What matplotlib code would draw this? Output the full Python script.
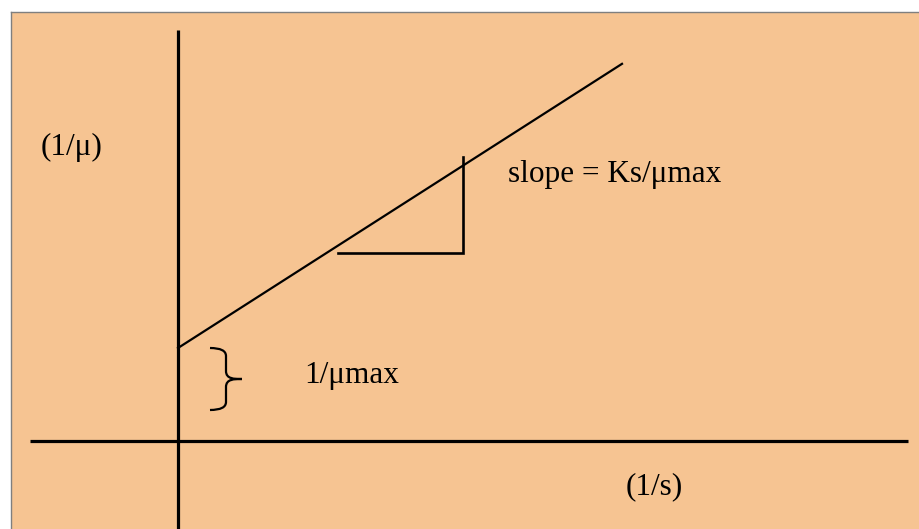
import matplotlib.pyplot as plt
from matplotlib.path import Path
import matplotlib.patches as mpatches

plt.rcParams['font.family'] = ['Liberation Serif', 'DejaVu Serif']

# diagram values (1 unit = 100 px, origin at the axes crossing)
intercept = 0.93          # 1/umax
slope = 0.64              # Ks/umax
line_x = [0.0, 4.44]
tri_x = [1.60, 2.85]      # horizontal leg of the slope triangle
tri_y = [1.88, 2.84]      # vertical leg of the slope triangle
brace_x = 0.32
brace_y = [0.31, 0.93]
brace_w = 0.32
xaxis_x = [-1.48, 7.30]
yaxis_y = [-0.95, 4.11]

labels = ['(1/\u03bc)', 'slope = Ks/\u03bcmax', '1/\u03bcmax', '(1/s)']
label_x = [-1.06, 3.30, 1.26, 4.76]
label_y = [2.94, 2.66, 0.66, -0.46]
label_ha = ['center', 'left', 'left', 'center']

bg = '#F6C492'

fig = plt.figure(figsize=(9.2, 5.29), dpi=100)
ax = fig.add_axes([11 / 920, 0, 909 / 920, 517 / 529])
ax.set_facecolor(bg)
ax.set_xlim(-1.67, 7.42)
ax.set_ylim(-0.88, 4.29)
ax.set_xticks([])
ax.set_yticks([])
for side in ['right', 'bottom']:
    ax.spines[side].set_visible(False)
for side in ['left', 'top']:
    ax.spines[side].set_color('#7f7f7f')
    ax.spines[side].set_linewidth(1.0)

# axes
ax.plot(xaxis_x, [0, 0], color='black', lw=2.3, solid_capstyle='butt')
ax.plot([0, 0], yaxis_y, color='black', lw=2.3, solid_capstyle='butt')

# Lineweaver-Burk line
line_y = [intercept + slope * x for x in line_x]
ax.plot(line_x, line_y, color='black', lw=1.6)

# slope triangle
ax.plot([tri_x[0], tri_x[1], tri_x[1]], [tri_y[0], tri_y[0], tri_y[1]],
        color='black', lw=1.9, solid_joinstyle='miter')

# curly brace for the intercept
b0, b1 = brace_y
bm = (b0 + b1) / 2
x0 = brace_x
x1 = brace_x + brace_w / 2
x2 = brace_x + brace_w
verts = [(x0, b1), (x1, b1), (x1, b1 - 0.08),
         (x1, bm + 0.08),
         (x1, bm), (x2 - 0.08, bm), (x2, bm),
         (x2 - 0.08, bm), (x1, bm), (x1, bm - 0.08),
         (x1, b0 + 0.08),
         (x1, b0), (x0, b0)]
codes = [Path.MOVETO, Path.CURVE3, Path.CURVE3,
         Path.LINETO,
         Path.CURVE4, Path.CURVE4, Path.CURVE4,
         Path.CURVE4, Path.CURVE4, Path.CURVE4,
         Path.LINETO,
         Path.CURVE3, Path.CURVE3]
ax.add_patch(mpatches.PathPatch(Path(verts, codes), fill=False,
                                edgecolor='black', lw=1.6))

for txt, tx, ty, ha in zip(labels, label_x, label_y, label_ha):
    ax.text(tx, ty, txt, ha=ha, va='center', fontsize=22.5, color='black')

fig.savefig('out.png', dpi=100, facecolor='white')
